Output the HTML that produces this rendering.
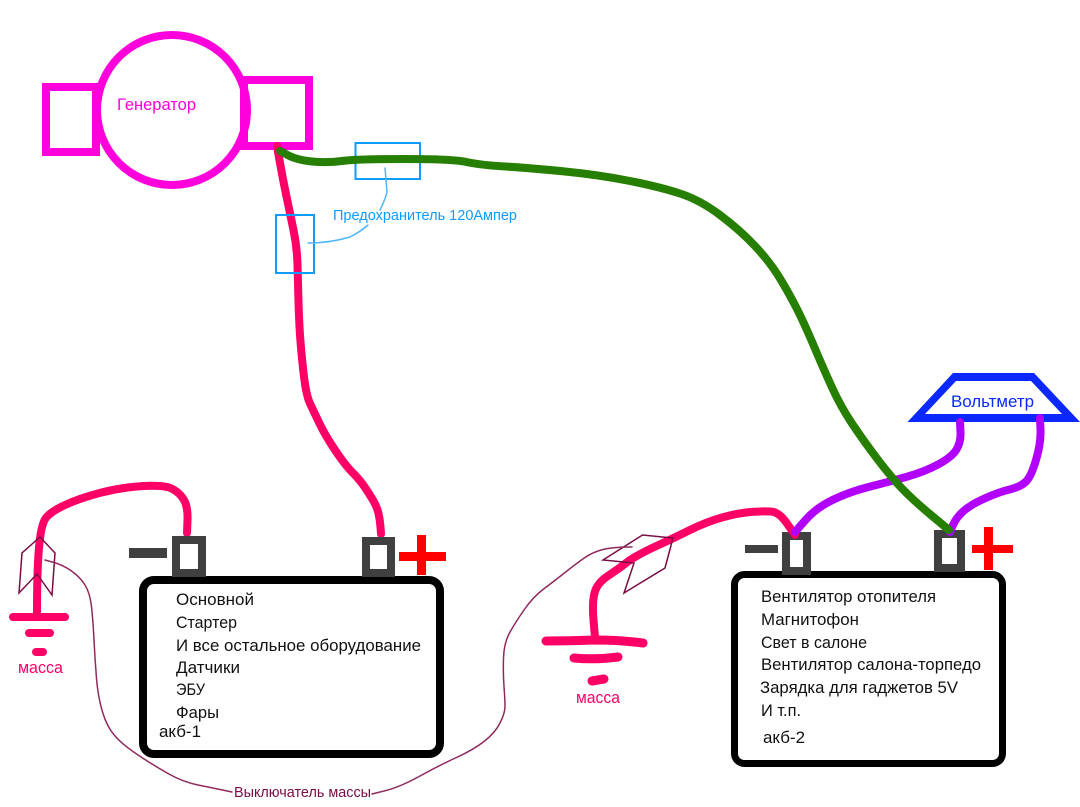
<!DOCTYPE html>
<html lang="ru">
<head>
<meta charset="utf-8">
<title>Схема</title>
<style>
html,body{margin:0;padding:0;background:#fff;}
svg{display:block;}
text{font-family:"Liberation Sans","DejaVu Sans",sans-serif;}
.w{fill:none;stroke-linecap:round;stroke-linejoin:round;}
.b{font-size:17px;fill:#111;}
</style>
</head>
<body>
<svg width="1080" height="807" viewBox="0 0 1080 807" xmlns="http://www.w3.org/2000/svg">
<rect width="1080" height="807" fill="#fff"/>

<!-- Generator -->
<circle cx="172" cy="110" r="75" fill="none" stroke="#ff00dc" stroke-width="8"/>
<rect x="46" y="87" width="50" height="65" fill="none" stroke="#ff00dc" stroke-width="8"/>
<rect x="244" y="80" width="65" height="66" fill="none" stroke="#ff00dc" stroke-width="8"/>
<text x="117" y="110" font-size="17" fill="#ff00dc" textLength="79" lengthAdjust="spacingAndGlyphs">Генератор</text>

<!-- Main wires -->
<path class="w" stroke="#ff0066" stroke-width="8" d="M277,146 L280,163 Q283,180 286.5,196.5 Q290,213 293.5,230 Q297,247 297.5,265 Q298,283 298.5,301.5 Q299,320 300,335 Q301,350 303.5,372.5 Q306,395 310,403.5 Q314,412 319.5,423.5 Q325,435 335,450 Q345,465 352.5,472.5 Q360,480 365,487.5 Q370,495 373.5,501 Q377,507 378.5,513.5 Q380,520 380.5,527 L381,534"/>

<!-- Fuses -->
<rect x="355.500" y="143" width="64.500" height="36" fill="none" stroke="#0f9bff" stroke-width="2"/>
<rect x="276" y="215" width="38" height="58" fill="none" stroke="#0f9bff" stroke-width="2"/>
<path class="w" stroke="#4db4ff" stroke-width="1.500" d="M385,168 Q386,180 387,192 Q385,200 380,210"/>
<path class="w" stroke="#4db4ff" stroke-width="1.500" d="M308,243 Q330,243 350,237 Q360,232 368,225"/>
<text x="333" y="220" font-size="14.500" fill="#0f9bff" textLength="184" lengthAdjust="spacingAndGlyphs">Предохранитель 120Ампер</text>

<!-- Battery 1 -->
<rect x="143" y="580" width="297" height="174" rx="11" fill="#fff" stroke="#000" stroke-width="8"/>
<path class="w" stroke="#ff0066" stroke-width="8" d="M187,533 L187.5,520 Q188,507 184,500 Q180,493 172.5,489 Q165,485 144,486 Q123,487 101.5,492.5 Q80,498 65,505 Q50,512 45.5,518.5 Q41,525 39,547.5 Q37,570 37,613"/>
<rect x="176" y="540" width="26" height="33" fill="#fff" stroke="#404040" stroke-width="8"/>
<rect x="366" y="541" width="25" height="32" fill="#fff" stroke="#404040" stroke-width="8"/>
<rect x="129" y="548" width="38" height="10" fill="#404040"/>
<rect x="399" y="552" width="47" height="9" fill="#ff0000"/>
<rect x="417" y="535" width="9" height="40" fill="#ff0000"/>
<text class="b" x="176" y="605" textLength="78" lengthAdjust="spacingAndGlyphs">Основной</text>
<text class="b" x="176" y="628" textLength="61" lengthAdjust="spacingAndGlyphs">Стартер</text>
<text class="b" x="176" y="651" textLength="245" lengthAdjust="spacingAndGlyphs">И все остальное оборудование</text>
<text class="b" x="176" y="673" textLength="64" lengthAdjust="spacingAndGlyphs">Датчики</text>
<text class="b" x="176" y="695" textLength="29" lengthAdjust="spacingAndGlyphs">ЭБУ</text>
<text class="b" x="176" y="718" textLength="43" lengthAdjust="spacingAndGlyphs">Фары</text>
<text class="b" x="159" y="737" textLength="42" lengthAdjust="spacingAndGlyphs">акб-1</text>

<!-- Ground 1 -->
<line class="w" x1="13" y1="617" x2="65" y2="617" stroke="#ff0066" stroke-width="8"/>
<line class="w" x1="29" y1="633" x2="50" y2="633" stroke="#ff0066" stroke-width="8"/>
<line class="w" x1="36" y1="652" x2="43" y2="652" stroke="#ff0066" stroke-width="8"/>
<text x="18" y="673" font-size="17" fill="#ff0066" textLength="45" lengthAdjust="spacingAndGlyphs">масса</text>

<!-- Battery 2 -->
<rect x="734.500" y="574.500" width="268" height="189" rx="10" fill="#fff" stroke="#000" stroke-width="7"/>
<rect x="786" y="536" width="21" height="35" fill="#fff" stroke="#404040" stroke-width="8"/>
<rect x="938" y="534" width="23" height="34" fill="#fff" stroke="#404040" stroke-width="8"/>
<rect x="745" y="545" width="33" height="8" fill="#404040"/>
<rect x="972" y="545" width="41" height="8" fill="#ff0000"/>
<rect x="984" y="527" width="9" height="43" fill="#ff0000"/>
<text class="b" x="761" y="602" textLength="175" lengthAdjust="spacingAndGlyphs">Вентилятор отопителя</text>
<text class="b" x="761" y="625" textLength="98" lengthAdjust="spacingAndGlyphs">Магнитофон</text>
<text class="b" x="761" y="648" textLength="106" lengthAdjust="spacingAndGlyphs">Свет в салоне</text>
<text class="b" x="761" y="670" textLength="220" lengthAdjust="spacingAndGlyphs">Вентилятор салона-торпедо</text>
<text class="b" x="760" y="693" textLength="198" lengthAdjust="spacingAndGlyphs">Зарядка для гаджетов 5V</text>
<text class="b" x="761" y="716" textLength="40" lengthAdjust="spacingAndGlyphs">И т.п.</text>
<text class="b" x="763" y="743" textLength="42" lengthAdjust="spacingAndGlyphs">акб-2</text>

<!-- Voltmeter -->
<path fill="#0a28ff" fill-rule="evenodd" d="M907.500,422 L953,373 L1034,373 L1080,422 Z M925,414 L1062,414 L1031,381 L956,381 Z"/>
<text x="951" y="407" font-size="17" fill="#0a28ff" textLength="83" lengthAdjust="spacingAndGlyphs">Вольтметр</text>

<!-- Wires on battery 2 -->
<path class="w" stroke="#ff0066" stroke-width="8" d="M795,535 L787,523.5 Q779,512 771,511.5 Q763,511 750.5,512 Q738,513 722,517.5 Q706,522 690,530 Q674,538 657.5,545.5 Q641,553 630,560 Q620,568 608.5,575.5 Q597,583 594.5,593 Q592,603 593.500,620 L595,637"/>
<path class="w" stroke="#b200ff" stroke-width="8" d="M960,422 L960.5,432 Q961,442 956.5,449.5 Q952,457 938,464.5 Q924,472 906,477 Q888,482 868.5,487 Q849,492 832.5,500 Q816,508 805.5,520 L795,532"/>
<path class="w" stroke="#b200ff" stroke-width="8" d="M1040,418 L1040.5,430 Q1041,443 1036,460 Q1031,477 1025.5,482 Q1020,487 1009.5,489.5 Q999,492 984.5,498.5 Q970,505 963,511.5 Q956,518 953,525 L950,532"/>
<path class="w" stroke="#267f00" stroke-width="8" d="M280,151 L288.5,155.5 Q297,160 312,161.5 Q327,163 342,161 Q357,159 405,159 Q453,159 466.5,162 Q480,165 505,166.5 Q530,168 565,171.5 Q600,175 630,181 Q660,187 680,193.5 Q700,200 720,215 Q740,230 755,246 Q770,262 780,278.5 Q790,295 797.5,310 Q805,325 814.5,347.5 Q824,370 832.5,388.5 Q841,407 852,423.5 Q863,440 877,458.5 Q891,477 902,488.5 Q913,500 931,515 L949,530"/>

<!-- Ground 2 -->
<path class="w" stroke="#ff0066" stroke-width="9" d="M546,641 Q570,641 595,640 Q620,640 643,643"/>
<path class="w" stroke="#ff0066" stroke-width="9" d="M574,658 Q595,660 618,657"/>
<path class="w" stroke="#ff0066" stroke-width="9" d="M592,681 L604,679"/>
<text x="576" y="703" font-size="17" fill="#ff0066" textLength="44" lengthAdjust="spacingAndGlyphs">масса</text>

<!-- Switches and thin wire -->
<polygon points="19,593 22,553 40,537 55,553 52,595 37,574" fill="none" stroke="#7a0c45" stroke-width="1.500"/>
<polygon points="603,560 642.500,535 673,538 665,568 624,593 634,563" fill="none" stroke="#7a0c45" stroke-width="1.500"/>
<path class="w" stroke="#8f2a5e" stroke-width="1.500" d="M45,560 L54,562.5 Q63,565 71.5,571 Q80,577 85,585 Q90,593 91.5,606.5 Q93,620 94,640 Q95,660 96.5,678.5 Q98,697 102.5,712 Q107,727 115,736 Q123,745 138,755 Q153,765 168,773.5 Q183,782 198,785 Q213,788 232,792"/>
<path class="w" stroke="#8f2a5e" stroke-width="1.500" d="M372,794 L386,790.5 Q400,787 420,776 Q440,765 456.5,757.5 Q473,750 484,741.5 Q495,733 500,723 Q505,713 505,706.5 Q505,700 504,686.5 Q503,673 503.5,658 Q504,643 509.5,633 Q515,623 524,610 Q533,597 543,589.5 Q553,582 565,572.5 Q577,563 585,557.5 Q593,552 603,549.5 Q613,547 632,547"/>
<text x="234" y="797" font-size="15" fill="#7a0c45" textLength="137" lengthAdjust="spacingAndGlyphs">Выключатель массы</text>
</svg>
</body>
</html>
